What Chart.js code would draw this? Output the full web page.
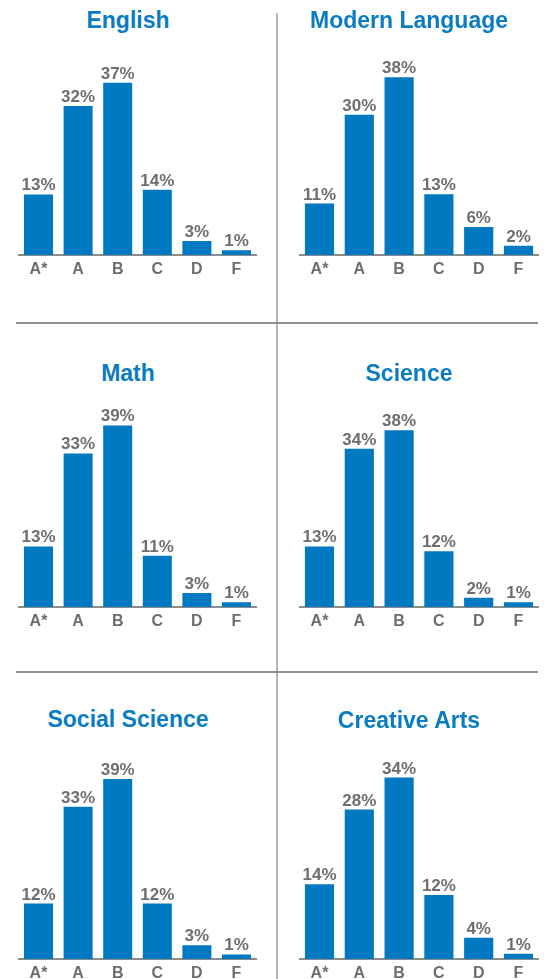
<!DOCTYPE html>
<html>
<head>
<meta charset="utf-8">
<script src="https://cdn.jsdelivr.net/npm/chart.js@4/dist/chart.umd.min.js"></script>
<style>
  html, body { margin: 0; padding: 0; background: #ffffff; }
  body { width: 550px; height: 979px; position: relative; overflow: hidden; }
  .panel { position: absolute; }
  .title { position: absolute; text-align: center; font-family: "Liberation Sans", Arial, sans-serif;
           font-weight: bold; font-size: 23px; line-height: 28px; color: #0a7cc2; white-space: nowrap; }
  .vline { position: absolute; left: 276px; top: 13px; width: 2px; height: 966px; background: #b4b4b4; }
  .hline { position: absolute; left: 16px; width: 522px; height: 2px; background: #8f8f8f; }
</style>
</head>
<body>
<div class="vline"></div>
<div class="hline" style="top:322px"></div>
<div class="hline" style="top:671px"></div>

<script>
// ---- Data ----
const grades = ["A*", "A", "B", "C", "D", "F"];
const subjects = ["English", "Modern Language", "Math", "Science", "Social Science", "Creative Arts"];
const english = [13, 32, 37, 14, 3, 1];
const modernLanguage = [11, 30, 38, 13, 6, 2];
const math = [13, 33, 39, 11, 3, 1];
const science = [13, 34, 38, 12, 2, 1];
const socialScience = [12, 33, 39, 12, 3, 1];
const creativeArts = [14, 28, 34, 12, 4, 1];
const seriesList = [english, modernLanguage, math, science, socialScience, creativeArts];
const axisMax = [41.9, 41.7, 41.9, 41.9, 43.1, 37.3];

// ---- Layout (positions only) ----
const panels = [
  { left: 0,   top: 0,   width: 275, height: 285, padL: 18.7, padR: 18.7, titleTop: 6,   titleCx: 128 },
  { left: 278, top: 0,   width: 272, height: 285, padL: 21.6, padR: 11.6, titleTop: 6,   titleCx: 409 },
  { left: 0,   top: 352, width: 275, height: 285, padL: 18.7, padR: 18.7, titleTop: 359, titleCx: 128 },
  { left: 278, top: 352, width: 272, height: 285, padL: 21.6, padR: 11.6, titleTop: 359, titleCx: 409 },
  { left: 0,   top: 700, width: 275, height: 289, padL: 18.7, padR: 18.7, titleTop: 705, titleCx: 128 },
  { left: 278, top: 700, width: 272, height: 289, padL: 21.6, padR: 11.6, titleTop: 706, titleCx: 409 }
];

const BLUE = "#0079c1";
const GRAY = "#6d6e71";
const FONT = "'Liberation Sans', Arial, sans-serif";

const valueLabels = {
  id: "valueLabels",
  afterDatasetsDraw(chart) {
    const ctx = chart.ctx;
    const meta = chart.getDatasetMeta(0);
    const data = chart.data.datasets[0].data;
    ctx.save();
    ctx.font = "bold 17px " + FONT;
    ctx.fillStyle = GRAY;
    ctx.textAlign = "center";
    ctx.textBaseline = "alphabetic";
    meta.data.forEach((bar, i) => {
      ctx.fillText(data[i] + "%", bar.x, bar.y - 4);
    });
    ctx.restore();
  }
};

panels.forEach((p, idx) => {
  const t = document.createElement("div");
  t.className = "title";
  t.textContent = subjects[idx];
  t.style.top = p.titleTop + "px";
  t.style.left = (p.titleCx - 150) + "px";
  t.style.width = "300px";
  document.body.appendChild(t);

  const wrap = document.createElement("div");
  wrap.className = "panel";
  wrap.style.left = p.left + "px";
  wrap.style.top = p.top + "px";
  wrap.style.width = p.width + "px";
  wrap.style.height = p.height + "px";
  const cv = document.createElement("canvas");
  wrap.appendChild(cv);
  document.body.appendChild(wrap);

  new Chart(cv, {
    type: "bar",
    data: {
      labels: grades,
      datasets: [{
        data: seriesList[idx],
        backgroundColor: BLUE,
        borderWidth: 0,
        barPercentage: 0.733,
        categoryPercentage: 1.0
      }]
    },
    options: {
      responsive: true,
      maintainAspectRatio: false,
      animation: false,
      devicePixelRatio: 1,
      layout: { padding: { top: 60, left: p.padL, right: p.padR, bottom: 0 } },
      plugins: { legend: { display: false }, tooltip: { enabled: false }, title: { display: false } },
      scales: {
        x: {
          offset: true,
          grid: { display: false, drawTicks: false },
          border: { display: true, color: "#8c8c8c", width: 2 },
          ticks: { color: GRAY, font: { family: FONT, size: 16, weight: "bold" }, padding: 5, maxRotation: 0, autoSkip: false },
          afterFit: (scale) => { scale.height = 30; }
        },
        y: {
          display: false,
          min: 0,
          max: axisMax[idx]
        }
      }
    },
    plugins: [valueLabels]
  });
});
</script>
</body>
</html>
